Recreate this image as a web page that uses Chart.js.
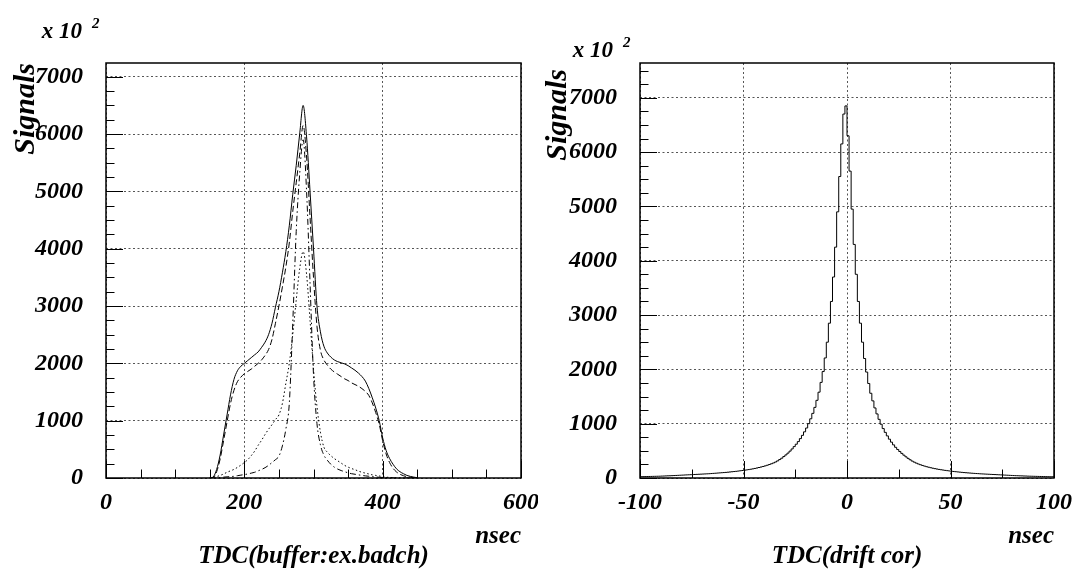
<!DOCTYPE html>
<html>
<head>
<meta charset="utf-8">
<script src="https://cdn.jsdelivr.net/npm/chart.js@4.4.1/dist/chart.umd.min.js"></script>
<style>
  body { margin: 0; background: #fff; }
  .pane { position: absolute; top: 0; width: 538px; height: 571px; }
</style>
</head>
<body>
<div class="pane" style="left:0"><canvas id="tdcBuffer" width="538" height="571"></canvas></div>
<div class="pane" style="left:538px"><canvas id="tdcDrift" width="538" height="571"></canvas></div>
<script>
// TDC spectrum (x 10^2 signals), sampled every 5 ns
const tdcTime = [150, 155, 160, 165, 170, 175, 180, 185, 190, 195, 200, 205, 210, 215, 220, 225, 230, 235, 240, 245,
  250, 255, 260, 265, 270, 275, 280, 285, 290, 295, 300, 305, 310, 315, 320, 325, 330, 335, 340, 345,
  350, 355, 360, 365, 370, 375, 380, 385, 390, 395, 400, 405, 410, 415, 420, 425, 430, 435, 440, 445, 450];
const tdcAll = [0, 20, 150, 400, 750, 1100, 1450, 1720, 1870, 1950, 2000, 2050, 2100, 2150, 2200, 2280, 2370, 2500, 2700, 2980,
  3250, 3580, 3950, 4400, 4950, 5450, 6000, 6500, 5950, 5000, 4000, 3000, 2550, 2300, 2180, 2110, 2060, 2030, 2010, 1990,
  1960, 1920, 1880, 1830, 1770, 1690, 1560, 1400, 1220, 1000, 700, 480, 340, 240, 160, 110, 75, 45, 28, 15, 5];
const tdcGood = [0, 10, 110, 330, 650, 980, 1300, 1530, 1680, 1760, 1820, 1860, 1900, 1950, 2000, 2060, 2140, 2240, 2420, 2700,
  3000, 3330, 3680, 4100, 4650, 5150, 5650, 6150, 5600, 4550, 3500, 2650, 2230, 2060, 1970, 1900, 1850, 1810, 1770, 1730,
  1700, 1660, 1630, 1600, 1560, 1510, 1440, 1310, 1140, 940, 650, 420, 270, 170, 105, 65, 40, 22, 12, 5, 0];
const tdcWide = [0, 15, 25, 45, 70, 100, 125, 150, 185, 225, 270, 320, 390, 470, 570, 660, 760, 850, 930, 1020,
  1100, 1300, 1650, 2000, 2500, 3100, 3650, 3950, 3550, 2750, 1900, 1250, 800, 540, 450, 390, 340, 300, 260, 220,
  190, 165, 145, 120, 100, 85, 70, 55, 45, 35, 25, 15, 10, 5, 2, 0, 0, 0, 0, 0, 0];
const tdcNarrow = [0, 0, 5, 10, 15, 20, 25, 30, 40, 50, 60, 70, 85, 100, 125, 150, 180, 220, 270, 320,
  380, 560, 850, 1300, 2700, 4300, 5300, 5900, 5000, 3400, 1800, 950, 580, 400, 310, 240, 190, 155, 130, 110,
  90, 75, 65, 55, 45, 37, 30, 24, 18, 13, 9, 6, 3, 0, 0, 0, 0, 0, 0, 0, 0];
const tdcTicks = [0, 200, 400, 600];

// drift-corrected TDC, 1 ns bins from -100 to 100
const driftLow = -100;
const driftBin = 1;
const driftLeft = [23, 24, 25, 26, 27, 28, 29, 30, 31, 32,
  33, 35, 36, 38, 40, 41, 43, 45, 47, 49,
  51, 53, 55, 57, 59, 61, 63, 65, 67, 69,
  71, 73, 75, 77, 79, 82, 85, 88, 91, 94,
  97, 100, 103, 107, 111, 115, 119, 123, 128, 133,
  138, 143, 149, 155, 161, 168, 176, 184, 193, 202,
  212, 223, 235, 248, 262, 277, 294, 315, 340, 365,
  395, 425, 458, 495, 535, 578, 622, 670, 725, 785,
  850, 920, 1000, 1090, 1190, 1300, 1430, 1580, 1760, 1960,
  2210, 2500, 2850, 3250, 3700, 4250, 4900, 5550, 6150, 6700];
const driftRight = [6850, 6300, 5650, 4950, 4300, 3750, 3250, 2850, 2500, 2200,
  1950, 1740, 1560, 1420, 1290, 1180, 1080, 990, 910, 840,
  775, 715, 660, 610, 565, 525, 488, 453, 420, 390,
  362, 336, 312, 292, 274, 258, 244, 231, 219, 208,
  198, 189, 180, 172, 165, 158, 152, 146, 140, 135,
  130, 125, 120, 116, 112, 108, 104, 100, 97, 94,
  91, 88, 85, 82, 80, 77, 75, 73, 71, 69,
  67, 65, 63, 61, 59, 57, 55, 53, 51, 49,
  47, 45, 43, 42, 40, 39, 37, 36, 34, 33,
  32, 31, 30, 29, 28, 27, 26, 25, 24, 23];
const driftTicks = [-100, -50, 0, 50, 100];

const signalTicks = [0, 1000, 2000, 3000, 4000, 5000, 6000, 7000];

const FAMILY = '"Liberation Serif", "Times New Roman", serif';
const labelFont = { family: FAMILY, style: 'italic', weight: 'bold', size: 24 };

// frame, inward ticks and the axis texts
const rootFrame = {
  id: 'rootFrame',
  afterDraw(chart, args, o) {
    const { ctx, chartArea: a, scales: { x, y } } = chart;
    ctx.save();
    ctx.strokeStyle = '#000';
    ctx.lineWidth = 1;
    ctx.beginPath();
    for (let v = 0; v <= y.max; v += o.yMinor) {
      const py = Math.round(y.getPixelForValue(v)) + 0.5;
      const len = v % o.yMajor === 0 ? 17 : 8.5;
      ctx.moveTo(a.left, py);
      ctx.lineTo(a.left + len, py);
    }
    for (let v = x.min; v <= x.max; v += o.xMinor) {
      const px = Math.round(x.getPixelForValue(v)) + 0.5;
      const len = v % o.xMajor === 0 ? 17 : 8.5;
      ctx.moveTo(px, a.bottom);
      ctx.lineTo(px, a.bottom - len);
    }
    ctx.stroke();
    ctx.lineWidth = 1.5;
    ctx.strokeRect(a.left, a.top, a.width, a.height);

    ctx.fillStyle = '#000';
    ctx.textBaseline = 'alphabetic';
    ctx.font = 'italic bold 25px ' + FAMILY;
    ctx.textAlign = 'right';
    ctx.fillText('nsec', a.right, 543);
    ctx.textAlign = 'center';
    ctx.fillText(o.title, (a.left + a.right) / 2, 563);

    ctx.font = 'italic bold 23px ' + FAMILY;
    ctx.textAlign = 'right';
    ctx.fillText('x 10', o.multX, o.multY);
    ctx.font = 'italic bold 15px ' + FAMILY;
    ctx.textAlign = 'left';
    ctx.fillText('2', o.multX + 10, o.multY - 10);

    ctx.translate(o.yTitleX, o.yTitleY);
    ctx.rotate(-Math.PI / 2);
    ctx.font = 'italic bold 30px ' + FAMILY;
    ctx.textAlign = 'right';
    ctx.fillText('Signals', 0, 0);
    ctx.restore();
  }
};

function axes(xMin, xMax, xTicks, yMax, yWidth) {
  return {
    x: {
      type: 'linear', min: xMin, max: xMax,
      afterFit: s => { s.height = 93; s.paddingLeft = 0; s.paddingRight = 0; },
      afterBuildTicks: s => { s.ticks = xTicks.map(v => ({ value: v })); },
      grid: { color: '#555', lineWidth: 1, drawTicks: false },
      border: { display: false, dash: [2, 2.5] },
      ticks: { font: labelFont, color: '#000', padding: 10, maxRotation: 0, autoSkip: false,
        callback: v => String(v) }
    },
    y: {
      type: 'linear', min: 0, max: yMax,
      afterFit: s => { s.width = yWidth; s.paddingTop = 0; s.paddingBottom = 0; },
      afterBuildTicks: s => { s.ticks = signalTicks.map(v => ({ value: v })); },
      grid: { color: '#555', lineWidth: 1, drawTicks: false },
      border: { display: false, dash: [2, 2.5] },
      ticks: { font: labelFont, color: '#000', padding: 23, autoSkip: false,
        callback: v => String(v) }
    }
  };
}

function curve(values, dash) {
  return {
    data: tdcTime.map((t, i) => ({ x: t, y: values[i] })),
    borderColor: '#000', borderWidth: 1, borderDash: dash,
    pointRadius: 0, fill: false, cubicInterpolationMode: 'monotone'
  };
}

new Chart(document.getElementById('tdcBuffer'), {
  type: 'line',
  data: {
    datasets: [
      curve(tdcAll, []),
      curve(tdcGood, [6, 3]),
      curve(tdcWide, [1.5, 2.5]),
      curve(tdcNarrow, [6, 3, 1.5, 3])
    ]
  },
  options: {
    responsive: false,
    animation: false,
    layout: { padding: { top: 63, right: 17, bottom: 0, left: 0 } },
    scales: axes(0, 600, tdcTicks, 7240, 106),
    plugins: {
      legend: { display: false },
      tooltip: { enabled: false },
      rootFrame: { yMinor: 250, yMajor: 1000, xMinor: 50, xMajor: 200,
        title: 'TDC(buffer:ex.badch)', multX: 82, multY: 38, yTitleX: 34, yTitleY: 63 }
    }
  },
  plugins: [rootFrame]
});

// histogram outline: each bin drawn flat from its lower edge to the next
const driftCounts = driftLeft.concat(driftRight);
const driftSteps = driftCounts.map((c, i) => ({ x: driftLow + i * driftBin, y: c }));
driftSteps.push({ x: driftLow + driftCounts.length * driftBin, y: driftCounts[driftCounts.length - 1] });

new Chart(document.getElementById('tdcDrift'), {
  type: 'line',
  data: {
    datasets: [{
      data: driftSteps,
      borderColor: '#000', borderWidth: 1, stepped: 'after',
      pointRadius: 0, fill: false
    }]
  },
  options: {
    responsive: false,
    animation: false,
    layout: { padding: { top: 63, right: 22, bottom: 0, left: 0 } },
    scales: axes(-100, 100, driftTicks, 7640, 102),
    plugins: {
      legend: { display: false },
      tooltip: { enabled: false },
      rootFrame: { yMinor: 250, yMajor: 1000, xMinor: 25, xMajor: 50,
        title: 'TDC(drift cor)', multX: 75, multY: 57, yTitleX: 28, yTitleY: 69 }
    }
  },
  plugins: [rootFrame]
});
</script>
</body>
</html>
